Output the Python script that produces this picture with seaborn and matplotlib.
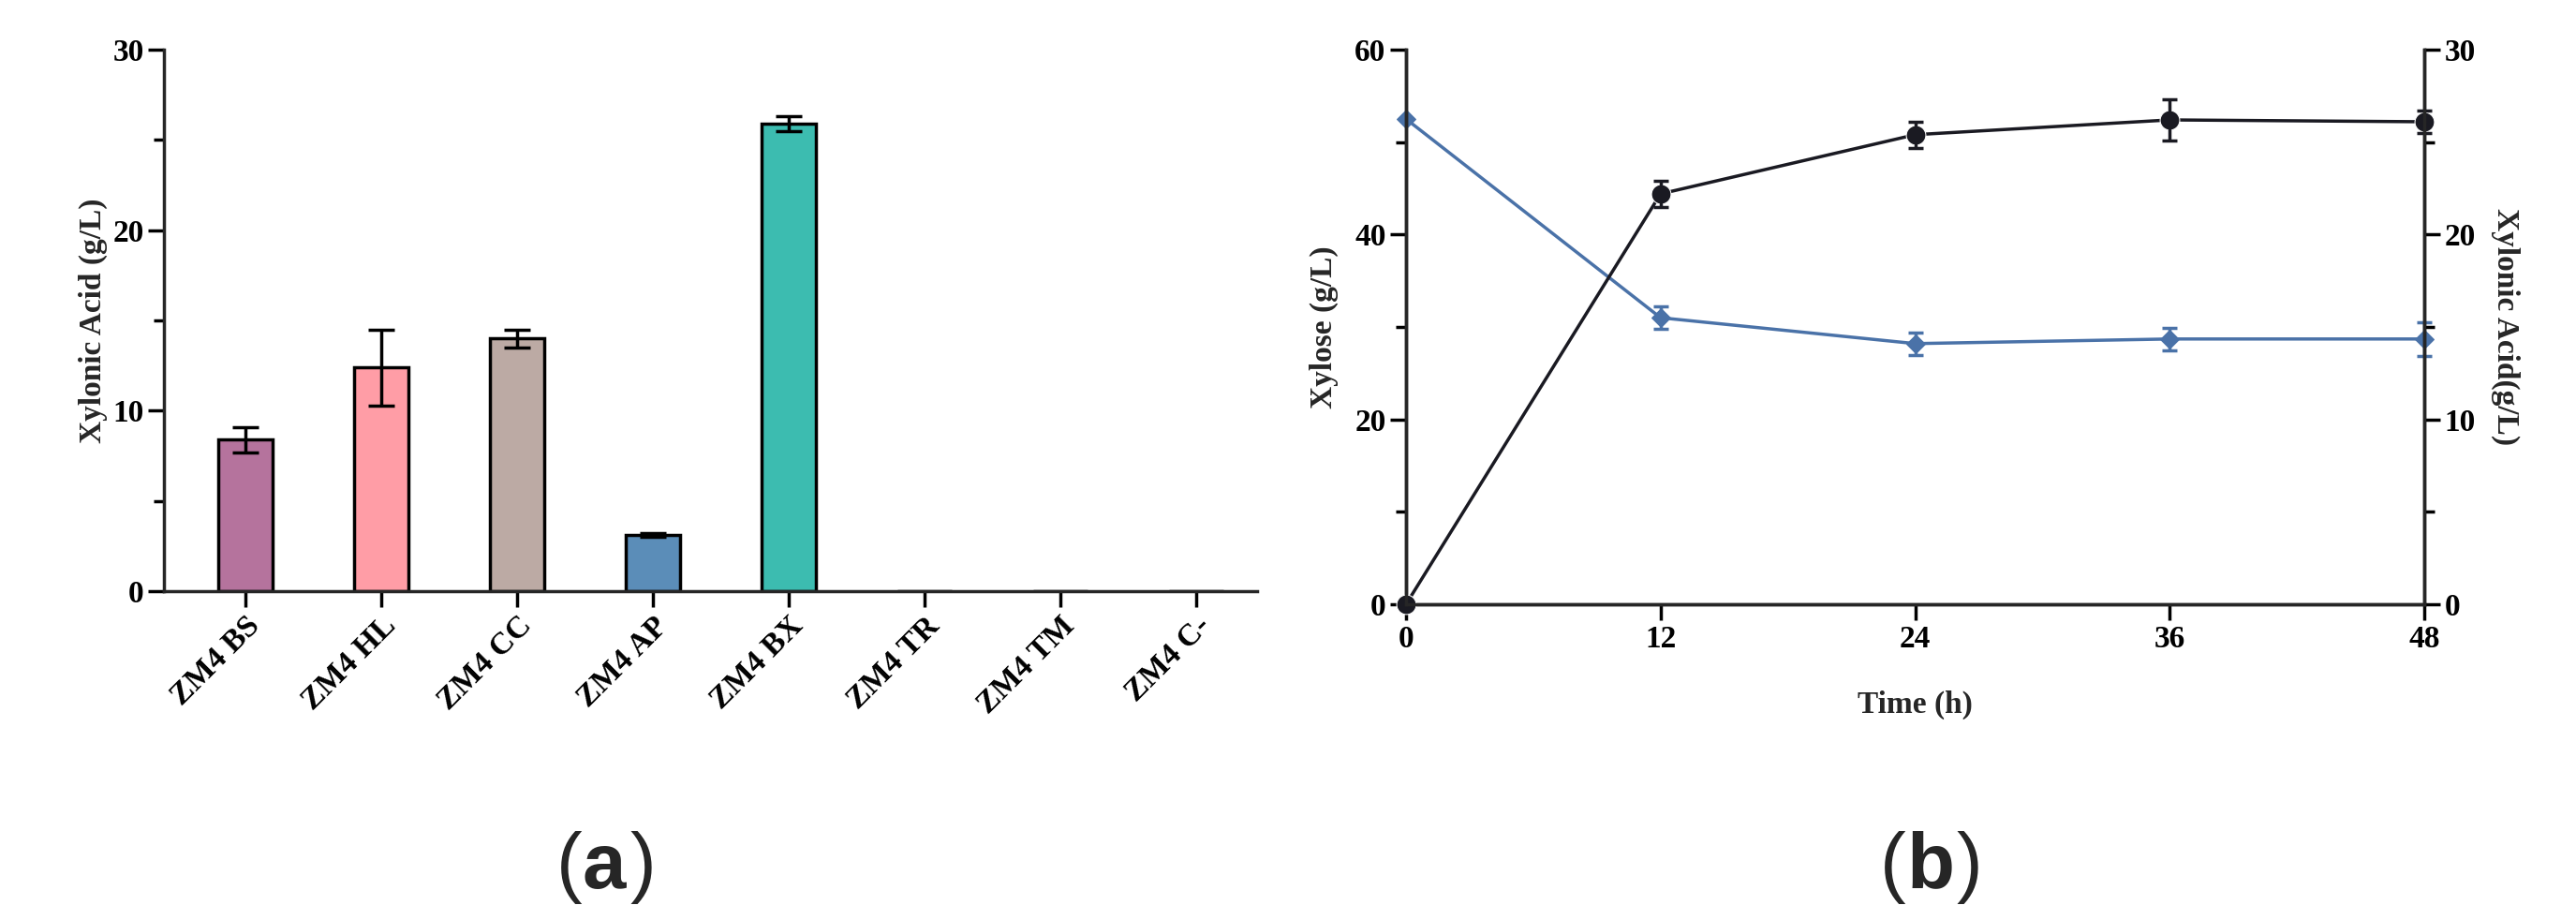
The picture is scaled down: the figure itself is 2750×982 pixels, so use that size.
import matplotlib
matplotlib.use('Agg')
import matplotlib.pyplot as plt
import seaborn as sns
import pandas as pd
from matplotlib.ticker import MultipleLocator

strains = ['ZM4 BS', 'ZM4 HL', 'ZM4 CC', 'ZM4 AP', 'ZM4 BX', 'ZM4 TR', 'ZM4 TM', 'ZM4 C-']
acid = [8.4, 12.4, 14.0, 3.1, 25.9, 0, 0, 0]
acid_err = [0.7, 2.1, 0.5, 0.1, 0.4, 0, 0, 0]
bar_colors = ['#b5739d', '#ff9da6', '#bcaaa4', '#5b8db8', '#3cbcb0', '#ffffff', '#ffffff', '#ffffff']

time_h = [0, 12, 24, 36, 48]
xylose = [52.5, 31.0, 28.2, 28.7, 28.7]
xylose_err = [0, 1.2, 1.2, 1.2, 1.8]
xylonic = [0, 22.2, 25.4, 26.2, 26.1]
xylonic_err = [0, 0.7, 0.7, 1.1, 0.6]

sns.set_style('ticks')
plt.rcParams['font.family'] = ['Liberation Serif', 'DejaVu Serif']
plt.rcParams['font.weight'] = 'bold'
plt.rcParams['axes.linewidth'] = 2.5
for k in ['xtick', 'ytick']:
    plt.rcParams[k + '.major.width'] = 2.5
    plt.rcParams[k + '.minor.width'] = 2.5
    plt.rcParams[k + '.major.size'] = 12
    plt.rcParams[k + '.minor.size'] = 8
    plt.rcParams[k + '.labelsize'] = 24
    plt.rcParams[k + '.color'] = 'black'

W, H = 2750, 982
fig = plt.figure(figsize=(27.5, 9.82), dpi=100)


def box(l, r, t, b):
    return [l / W, 1 - b / H, (r - l) / W, (b - t) / H]


# panel (a)
ax1 = fig.add_axes(box(175, 1342, 53, 631))
df = pd.DataFrame({'strain': strains, 'acid': acid})
sns.barplot(data=df, x='strain', y='acid', hue='strain', palette=bar_colors, legend=False,
            width=0.4, edgecolor='black', linewidth=2.5, saturation=1, ax=ax1)
ax1.errorbar(range(5), acid[:5], yerr=acid_err[:5], fmt='none', ecolor='black',
             elinewidth=2.5, capsize=10, capthick=2.5)
ax1.set_ylim(0, 30)
ax1.set_xlim(-0.6, 7.45)
ax1.yaxis.set_major_locator(MultipleLocator(10))
ax1.yaxis.set_minor_locator(MultipleLocator(5))
ax1.set_xlabel('')
ax1.set_ylabel('Xylonic Acid (g/L)', fontsize=24, fontweight='bold')
ax1.tick_params(axis='x', rotation=45)
for t in ax1.get_xticklabels():
    t.set_ha('right')
    t.set_rotation_mode('anchor')
sns.despine(ax=ax1)
fig.text(0.226, 0.035, '(', fontsize=60, family='Liberation Sans', weight='normal', ha='right')
fig.text(0.226, 0.035, 'a', fontsize=60, family='Liberation Sans', weight='bold', ha='left')
fig.text(0.2445, 0.035, ')', fontsize=60, family='Liberation Sans', weight='normal', ha='left')

# panel (b)
ax2 = fig.add_axes(box(1501, 2588, 53, 645))
ax3 = ax2.twinx()
sns.lineplot(x=time_h, y=xylose, color='#4a72a8', marker='D', markersize=10,
             markeredgecolor='#4a72a8', linewidth=2.5, ax=ax2)
ax2.errorbar(time_h, xylose, yerr=xylose_err, fmt='none', ecolor='#4a72a8',
             elinewidth=2.5, capsize=6, capthick=2.5)
sns.lineplot(x=time_h, y=xylonic, color='#1a1a22', marker='o', markersize=15,
             linewidth=2.5, ax=ax3)
ax3.errorbar(time_h, xylonic, yerr=xylonic_err, fmt='none', ecolor='#1a1a22',
             elinewidth=2.5, capsize=6, capthick=2.5)
ax2.set_xlim(0, 48)
ax2.set_ylim(0, 60)
ax3.set_ylim(0, 30)
ax2.set_xticks(time_h)
ax2.yaxis.set_major_locator(MultipleLocator(20))
ax2.yaxis.set_minor_locator(MultipleLocator(10))
ax3.yaxis.set_major_locator(MultipleLocator(10))
ax3.yaxis.set_minor_locator(MultipleLocator(5))
ax2.set_xlabel('Time (h)', fontsize=24, fontweight='bold', labelpad=28)
ax2.set_ylabel('Xylose (g/L)', fontsize=24, fontweight='bold', labelpad=12)
ax3.set_ylabel('Xylonic Acid(g/L)', fontsize=24, fontweight='bold', rotation=270, labelpad=34)
for a in (ax2, ax3):
    a.spines['top'].set_visible(False)
    for ln in a.lines:
        ln.set_clip_on(False)
fig.text(0.74, 0.035, '(', fontsize=60, family='Liberation Sans', weight='normal', ha='right')
fig.text(0.74, 0.035, 'b', fontsize=60, family='Liberation Sans', weight='bold', ha='left')
fig.text(0.7595, 0.035, ')', fontsize=60, family='Liberation Sans', weight='normal', ha='left')

fig.savefig('out.png', dpi=100, facecolor='white')
